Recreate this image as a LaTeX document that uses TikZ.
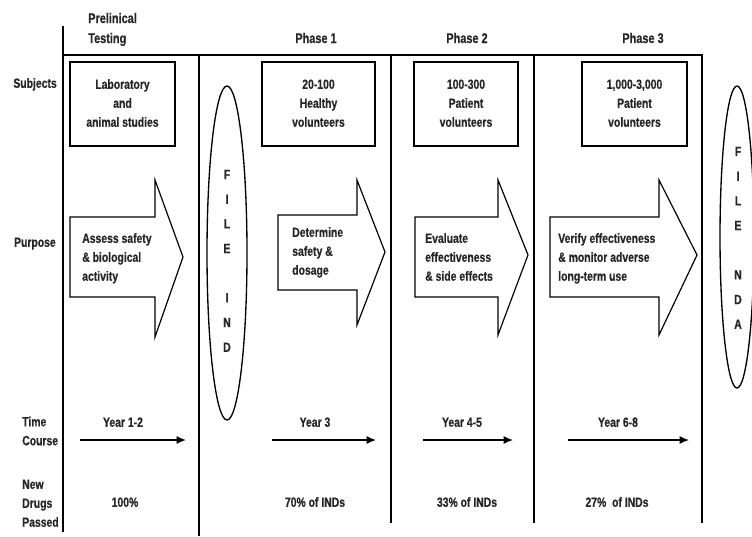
\documentclass[tikz,border=0pt]{standalone}
\usepackage{fontspec}
\usepackage{graphicx}
\setmainfont{Liberation Sans Bold}[FakeBold=0.6]
\usetikzlibrary{arrows.meta,shapes.geometric}
\newcommand{\nt}[2][c]{\scalebox{0.78}[1]{\begin{tabular}{@{}#1@{}}#2\end{tabular}}}
\begin{document}
\begin{tikzpicture}[x=0.75pt,y=-0.75pt,
  txt/.style={font=\fontsize{10}{14.2}\selectfont, inner sep=0pt, text=black!85},
  hdr/.style={font=\fontsize{10.5}{15}\selectfont, inner sep=0pt, text=black!85},
  subjbox/.style={draw, line width=1.1pt, inner sep=0pt},
  bigarrow/.style={draw, line width=0.9pt, line join=miter},
  sepline/.style={line width=0.9pt},
  heavyline/.style={line width=2.2pt},
  timearrow/.style={-{Latex[length=7pt,width=6pt]}, line width=1pt},
  filebubble/.style={draw, ellipse, line width=1pt, inner sep=0pt},
  letters/.style={font=\fontsize{10}{18.5}\selectfont, inner sep=0pt, text=black!85}
]
\useasboundingbox (0,0) rectangle (752,536);
\clip (0,0) rectangle (752,536);
\fill[white] (0,0) rectangle (752,536);

% frame lines
\coordinate (lt) at (63,26);  \coordinate (lb) at (63,532);
\coordinate (tl) at (63,55);  \coordinate (tr) at (703,55);
\draw[heavyline] (lt) -- (lb);
\draw[heavyline] (tl) -- (tr);
\coordinate (v1t) at (199,55); \coordinate (v1b) at (199,536);
\coordinate (v2t) at (391,55); \coordinate (v2b) at (391,523);
\coordinate (v3t) at (534,55); \coordinate (v3b) at (534,523);
\coordinate (v4t) at (702,55); \coordinate (v4b) at (702,523);
\draw[sepline] (v1t) -- (v1b);
\draw[sepline] (v2t) -- (v2b);
\draw[sepline] (v3t) -- (v3b);
\draw[sepline] (v4t) -- (v4b);

% headers
\node[hdr, anchor=west] (h0) at (88,29) {\nt[l]{Prelinical\\Testing}};
\node[hdr] (h1) at (316,39) {\nt{Phase 1}};
\node[hdr] (h2) at (467,39) {\nt{Phase 2}};
\node[hdr] (h3) at (643,39) {\nt{Phase 3}};

% row labels
\node[txt, anchor=east] (rs) at (57,84) {\nt{Subjects}};
\node[txt, anchor=east] (rp) at (56,243) {\nt{Purpose}};
\node[txt, anchor=west] (rt) at (22,432) {\nt[l]{Time\\Course}};
\node[txt, anchor=west] (rn) at (22,504) {\nt[l]{New\\Drugs\\Passed}};

% subject boxes
\node[subjbox, txt, minimum width=78.75pt, minimum height=63pt] (b1) at (122.5,104) {\nt{Laboratory\\and\\animal studies}};
\node[subjbox, txt, minimum width=84.75pt, minimum height=63pt] (b2) at (318.5,104) {\nt{20-100\\Healthy\\volunteers}};
\node[subjbox, txt, minimum width=78pt, minimum height=63pt] (b3) at (466,104) {\nt{100-300\\Patient\\volunteers}};
\node[subjbox, txt, minimum width=78.75pt, minimum height=63pt] (b4) at (634.5,104) {\nt{1,000-3,000\\Patient\\volunteers}};

% purpose block arrows
\draw[bigarrow] (70,217) -- (155,217) -- (155,180) -- (183,257) -- (155,337) -- (155,297) -- (70,297) -- cycle;
\draw[bigarrow] (278,215) -- (357,215) -- (357,180) -- (385,252) -- (357,325) -- (357,290) -- (278,290) -- cycle;
\draw[bigarrow] (415,217) -- (498,217) -- (498,180) -- (528,255) -- (498,335) -- (498,297) -- (415,297) -- cycle;
\draw[bigarrow] (550,217) -- (659,217) -- (659,180) -- (697,255) -- (659,335) -- (659,297) -- (550,297) -- cycle;
\node[txt, anchor=west] (p1) at (82,258) {\nt[l]{Assess safety\\\& biological\\activity}};
\node[txt, anchor=west] (p2) at (292,252) {\nt[l]{Determine\\safety \&\\dosage}};
\node[txt, anchor=west] (p3) at (425,258) {\nt[l]{Evaluate\\effectiveness\\\& side effects}};
\node[txt, anchor=west] (p4) at (558,258) {\nt[l]{Verify effectiveness\\\& monitor adverse\\long-term use}};

% file ellipses
\node[filebubble, minimum width=30pt, minimum height=250.5pt] (ind) at (227,253) {};
\node[letters] (indtxt) at (227,260.5) {\nt{F\\I\\L\\E\\\mbox{}\\I\\N\\D}};
\node[filebubble, minimum width=25.5pt, minimum height=226.5pt] (nda) at (737,237) {};
\node[letters] (ndatxt) at (738,237.5) {\nt{F\\I\\L\\E\\\mbox{}\\N\\D\\A}};

% time course
\coordinate (t1s) at (80,440);  \coordinate (t1e) at (186,440);
\coordinate (t2s) at (272,440); \coordinate (t2e) at (376,440);
\coordinate (t3s) at (423,440); \coordinate (t3e) at (513,440);
\coordinate (t4s) at (568,440); \coordinate (t4e) at (689,440);
\draw[timearrow] (t1s) -- (t1e);
\draw[timearrow] (t2s) -- (t2e);
\draw[timearrow] (t3s) -- (t3e);
\draw[timearrow] (t4s) -- (t4e);
\node[txt] (y1) at (123,423) {\nt{Year 1-2}};
\node[txt] (y2) at (315,423) {\nt{Year 3}};
\node[txt] (y3) at (462,423) {\nt{Year 4-5}};
\node[txt] (y4) at (618,423) {\nt{Year 6-8}};

% drugs passed
\node[txt] (d1) at (125,503) {\nt{100\%}};
\node[txt] (d2) at (315,503) {\nt{70\% of INDs}};
\node[txt] (d3) at (467,503) {\nt{33\% of INDs}};
\node[txt] (d4) at (617,503) {\nt{27\%\ \ of INDs}};
\end{tikzpicture}
\end{document}
